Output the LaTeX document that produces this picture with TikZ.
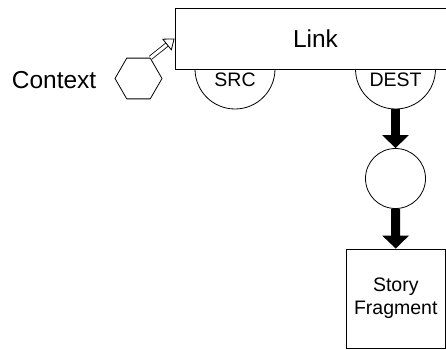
\documentclass[tikz,border=0pt]{standalone}
\usepackage{fontspec}
\setmainfont{Liberation Sans}
\usetikzlibrary{shapes.geometric,arrows.meta,positioning}
\definecolor{dialinecolor}{rgb}{0.000000, 0.000000, 0.000000}
\tikzset{
  bigtext/.style={font=\fontsize{24.5}{28}\selectfont},
  smalltext/.style={font=\fontsize{19.5}{23}\selectfont},
  flow/.style={draw=dialinecolor, line width=9pt, -{Triangle[width=26pt,length=13pt]}},
  hollow/.style={draw=dialinecolor, double=white, double distance=3pt, line width=0.8pt,
    -{Triangle[open,width=15pt,length=10pt]}}
}

\begin{document}
\begin{tikzpicture}[x=1pt,y=1pt,line width=0.8pt]
\useasboundingbox (0,0) rectangle (446,349);
% link box
\node[draw=dialinecolor, rectangle, minimum width=281pt, minimum height=61pt, inner sep=0, bigtext] (link) at (315.5,310.5) {Link};
% ports
\coordinate (srcc) at (235,280);
\coordinate (destc) at (395.5,280);
\draw (srcc) ++(-40,0) arc (180:360:40);
\draw (destc) ++(-40,0) arc (180:360:40);
\node[smalltext] (src) at (235,269) {SRC};
\node[smalltext] (dest) at (395.5,269) {DEST};
\coordinate (destbot) at (395.5,240);
% context
\node[draw=dialinecolor, regular polygon, regular polygon sides=6, minimum size=47pt, inner sep=0] (ctx) at (138.5,270.5) {};
\node[bigtext, anchor=east] (ctxlabel) at (100,269) {Context};
\draw[hollow] (ctx.60) -- (link.west);
% place
\node[draw=dialinecolor, circle, minimum size=60pt, inner sep=0] (place) at (395.5,170.5) {};
% story fragment
\node[draw=dialinecolor, rectangle, minimum width=99.5pt, minimum height=99pt, inner sep=0, smalltext, align=center] (story) at (395.75,50.5) {Story\\Fragment};
\draw[flow] (destbot) -- (place.north);
\draw[flow] (place.south) -- (story.north);
\end{tikzpicture}
\end{document}
